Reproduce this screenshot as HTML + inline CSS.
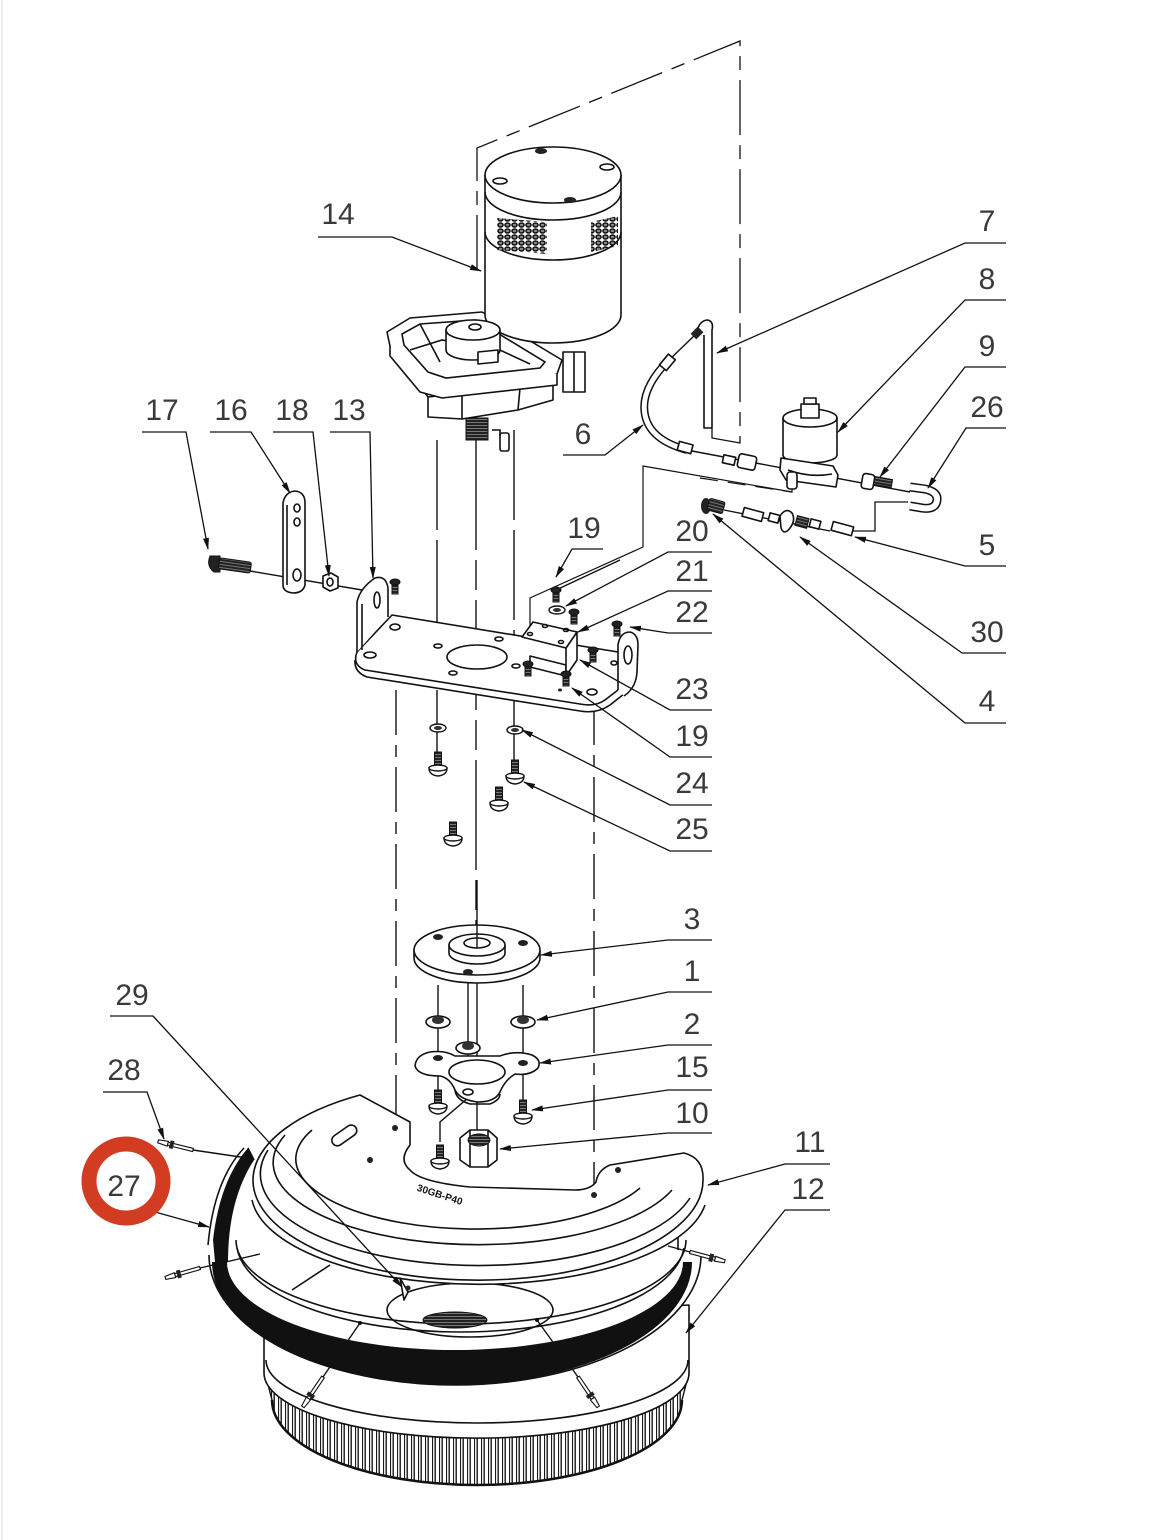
<!DOCTYPE html>
<html><head><meta charset="utf-8">
<style>
html,body{margin:0;padding:0;background:#fff;}
svg{display:block;}
.t{font-family:"Liberation Sans",sans-serif;font-size:30px;fill:#3a3a3a;text-anchor:middle;}
.l{fill:none;stroke:#111;stroke-width:1.4;}
.p{fill:#fff;stroke:#111;stroke-width:1.6;stroke-linejoin:round;}
.n{fill:none;stroke:#111;stroke-width:1.6;}
.d{fill:none;stroke:#111;stroke-width:1.5;}
</style></head><body>
<svg width="1168" height="1540" viewBox="0 0 1168 1540" xmlns="http://www.w3.org/2000/svg">
<defs>
<marker id="a" markerWidth="12" markerHeight="8" refX="11" refY="4" orient="auto" markerUnits="userSpaceOnUse"><path d="M0,1 L12,4 L0,7 Z" fill="#111"/></marker>
<pattern id="br" x="0" y="0" width="7" height="20" patternUnits="userSpaceOnUse"><rect width="7" height="20" fill="#fff"/><rect x="0.5" y="0" width="1.4" height="20" fill="#1a1a1a"/><rect x="5" y="0" width="1.1" height="20" fill="#1a1a1a"/></pattern>
<pattern id="vent" x="0" y="0" width="7" height="6" patternUnits="userSpaceOnUse"><ellipse cx="3.5" cy="3" rx="2.5" ry="2" fill="#888" stroke="#111" stroke-width="1.6"/></pattern>
<pattern id="hatch" width="3" height="3" patternUnits="userSpaceOnUse"><rect width="3" height="3" fill="#222"/><rect y="2" width="3" height="1" fill="#777"/></pattern>
<g id="sb"><rect x="-3.5" y="-18" width="7" height="16" fill="url(#hatch)" stroke="#111" stroke-width="1"/><path d="M-9,-2 Q-9,5 0,6 Q9,5 9,-2 Z" fill="#fff" stroke="#111" stroke-width="1.4"/><ellipse cx="0" cy="-2" rx="9" ry="3" fill="#fff" stroke="#111" stroke-width="1.4"/></g>
<g id="st"><rect x="-3" y="0" width="6" height="12" fill="url(#hatch)" stroke="#111" stroke-width="1"/><ellipse cx="0" cy="0" rx="5" ry="3" fill="#222" stroke="#111"/></g>
<g id="w"><ellipse cx="0" cy="0" rx="8" ry="4" fill="#fff" stroke="#111" stroke-width="1.4"/><ellipse cx="0" cy="0" rx="4" ry="2" fill="#333"/></g>
<g id="pin"><path d="M0,-1.6 L26,-1.6 L26,1.6 L0,1.6 Z" fill="#fff" stroke="#111" stroke-width="1.1"/><path d="M20,-4 L24,-4 L24,4 L20,4 Z" fill="#222"/><path d="M26,-2.5 L36,-1.5 L36,1.5 L26,2.5 Z" fill="#fff" stroke="#111" stroke-width="1.1"/></g>
</defs>
<rect width="1168" height="1540" fill="#fff"/>
<line x1="2" y1="0" x2="2" y2="1540" stroke="#eeeeee" stroke-width="2"/>

<!-- top dashed frame -->
<path d="M477,270 L477,148 L740,41 L740,443 L712,438 L712,428" fill="none" stroke="#111" stroke-width="1.3" stroke-dasharray="55,10,14,10"/>

<!-- ===== MOTOR / GEARBOX ===== -->
<g>
<rect x="563" y="352" width="22" height="40" class="p"/>
<line x1="574" y1="352" x2="574" y2="392" class="n"/>
<path d="M398,355 L428,397 L428,417 L462,419 L518,410 L553,400 L553,372 Z" class="p"/>
<path d="M428,397 L552,383" class="n"/>
<line x1="462" y1="392" x2="462" y2="419" class="n"/>
<line x1="520" y1="388" x2="518" y2="410" class="n"/>
<path d="M387,332 L410,318 L482,312 L562,360 L557,374 L442,388 L420,380 L390,346 Z" class="p"/>
<path d="M390,346 L390,356 L420,392 L442,398 L557,385 L557,374" class="p"/>
<path d="M402,334 L420,324 L476,320 L545,362 L540,368 L446,378 L428,372 L404,345 Z" class="n"/>
<path d="M410,350 L442,340 L500,350 L530,364" class="n"/>
<line x1="420" y1="324" x2="440" y2="362" class="n"/>
<rect x="466" y="418" width="22" height="22" fill="url(#hatch)" stroke="#111"/>
<rect x="500" y="433" width="9" height="18" rx="2" class="p"/>
<path d="M492,430 L500,430 L500,436" class="n"/>
<!-- motor body -->
<path d="M485,175 L485,315 A68,28 0 0 0 621,315 L621,175 Z" class="p"/>
<ellipse cx="553" cy="175" rx="68" ry="28" class="p"/>
<path d="M485,192 A68,28 0 0 0 621,192" class="n"/>
<path d="M485,232 A68,28 0 0 0 621,232" class="n"/>
<path d="M497,218 L547,222 L547,254 L497,250 Z" fill="url(#vent)"/>
<path d="M591,222 L618,216 L618,246 L591,252 Z" fill="url(#vent)"/>
<ellipse cx="541" cy="151" rx="6" ry="3" fill="#222"/>
<ellipse cx="570" cy="200" rx="6" ry="3" fill="#222"/>
<ellipse cx="500" cy="181" rx="7" ry="3" class="n"/>
<ellipse cx="607" cy="167" rx="7" ry="3" class="n"/>
<!-- hub on gearbox -->
<path d="M446,330 L446,350 A27,10 0 0 0 500,350 L500,330" class="p"/>
<ellipse cx="473" cy="330" rx="27" ry="10" class="p"/>
<ellipse cx="475" cy="327" rx="6" ry="3" class="n"/>
<path d="M478,352 L498,350 L498,362 L478,364 Z" class="p"/>
</g>

<!-- vertical assembly lines -->
<path d="M437,440 L437,650" class="l" stroke-dasharray="90,10"/>
<path d="M437,690 L437,755" class="l"/>
<path d="M476,440 L476,945" class="l" stroke-dasharray="110,10,30,10"/>
<path d="M514,430 L514,650" class="l" stroke-dasharray="90,10"/>
<path d="M514,690 L514,760" class="l"/>
<path d="M396,690 L396,1130" class="l" stroke-dasharray="45,10,12,10"/>
<path d="M594,700 L594,1195" class="l" stroke-dasharray="45,10,12,10"/>

<!-- ===== HOSES / VALVES ===== -->
<g>
<path d="M697,331 Q700,320 708,320 Q714,322 712,330 L712,428 L704,428 L704,335" class="p"/>
<path d="M667,362 Q640,390 645,415 Q650,440 687,450" fill="none" stroke="#111" stroke-width="8"/>
<path d="M667,362 Q640,390 645,415 Q650,440 687,450" fill="none" stroke="#fff" stroke-width="5"/>
<line x1="667" y1="362" x2="697" y2="333" class="l"/>
<rect x="693" y="328" width="8" height="10" transform="rotate(45 697 333)" fill="#222"/>
<rect x="663" y="355" width="9" height="14" transform="rotate(40 667 362)" class="p"/>
<rect x="678" y="443" width="14" height="9" transform="rotate(15 685 448)" class="p"/>
<line x1="692" y1="451" x2="910" y2="492" class="l"/>
<rect x="723" y="456" width="12" height="8" transform="rotate(12 729 460)" class="p"/>
<rect x="738" y="455" width="18" height="14" rx="3" transform="rotate(12 747 462)" class="p"/>
<!-- solenoid -->
<path d="M783,418 L783,455 A27,8 0 0 0 837,455 L837,418" class="p"/>
<ellipse cx="810" cy="418" rx="27" ry="9" class="p"/>
<path d="M801,404 L819,404 L819,418 L801,418 Z" class="p"/>
<path d="M804,398 L816,398 L816,404 L804,404 Z" class="p"/>
<path d="M781,458 L833,466 L838,475 L836,487 L786,480 L780,470 Z" class="p"/>
<path d="M788,470 Q810,478 832,474" class="n"/>
<rect x="787" y="472" width="10" height="17" rx="3" class="p"/>
<path d="M792,489 L792,492 L643,466 L643,547 L530,598 L530,640" fill="none" stroke="#111" stroke-width="1.2"/>
<path d="M700,478 L792,492" fill="none" stroke="#111" stroke-width="1.2" stroke-dasharray="18,10"/>
<line x1="620" y1="560" x2="556" y2="590" class="l"/>
<!-- fitting 9 -->
<rect x="862" y="474" width="12" height="15" rx="3" transform="rotate(10 868 481)" class="p"/>
<rect x="874" y="478" width="18" height="8" transform="rotate(10 883 482)" fill="url(#hatch)" stroke="#111"/>
<!-- U bend 26 -->
<path d="M910,487 L925,489 Q938,492 937,500 Q936,510 922,508 L910,506" fill="none" stroke="#111" stroke-width="9"/>
<path d="M910,487 L925,489 Q938,492 937,500 Q936,510 922,508 L910,506" fill="none" stroke="#fff" stroke-width="6"/>
<path d="M908,502 L875,502 L875,531 L853,531" fill="none" stroke="#111" stroke-width="1.3"/>
<!-- lower row -->
<ellipse cx="706" cy="506" rx="5" ry="8" fill="#222"/>
<rect x="708" y="500" width="16" height="12" rx="2" transform="rotate(15 716 506)" fill="url(#hatch)" stroke="#111"/>
<line x1="724" y1="510" x2="830" y2="531" class="l"/>
<rect x="743" y="510" width="20" height="9" transform="rotate(15 753 514)" class="p"/>
<rect x="769" y="514" width="10" height="8" transform="rotate(15 774 518)" class="p"/>
<path d="M780,516 Q786,507 792,513 Q796,520 790,528 Q784,536 781,528 Z" class="p"/>
<rect x="796" y="517" width="12" height="10" transform="rotate(15 802 522)" fill="url(#hatch)" stroke="#111"/>
<rect x="810" y="520" width="10" height="8" transform="rotate(15 815 524)" class="p"/>
<rect x="832" y="524" width="21" height="9" transform="rotate(15 842 528)" class="p"/>
</g>

<!-- ===== PLATE 13 & bolts ===== -->
<g>
<line x1="250" y1="571" x2="362" y2="590" class="l"/>
<path d="M210,556 Q206,566 214,572 L220,572 L220,556 Z" fill="#222" stroke="#111"/>
<rect x="219" y="560" width="32" height="11" rx="2" transform="rotate(8 235 565)" fill="url(#hatch)" stroke="#111"/>
<path d="M283,503 Q285,492 295,491 Q305,492 305,503 L305,585 Q303,593 293,593 Q283,592 283,585 Z" class="p"/>
<path d="M287,505 L287,585" class="n"/>
<ellipse cx="297" cy="508" rx="3" ry="4" class="n"/>
<ellipse cx="297" cy="522" rx="3" ry="4" class="n"/>
<ellipse cx="297" cy="575" rx="4" ry="6" class="n"/>
<path d="M323,576 L331,573 L338,577 L338,588 L330,591 L323,587 Z" class="p"/>
<ellipse cx="330" cy="582" rx="3" ry="4" class="n"/>
<!-- plate -->
<path d="M355,660 Q354,672 367,677 L580,711 Q597,714 610,705 L624,694" class="p"/>
<path d="M357,652 L392,615 L618,652 L628,665 Q630,680 618,690 L605,700 Q595,707 580,704 L365,670 Q352,665 357,652 Z" class="p"/>
<path d="M357,652 L357,602 Q360,588 375,578 Q386,575 388,588 L388,617" class="p"/>
<path d="M362,650 L362,604" class="n"/>
<ellipse cx="377" cy="600" rx="3" ry="8" class="n"/>
<path d="M618,690 L618,645 Q620,632 630,632 Q638,634 638,645 L637,672 Q636,688 624,696" class="p"/>
<ellipse cx="628" cy="655" rx="4" ry="9" class="n"/>
<ellipse cx="477" cy="657" rx="30" ry="12" class="p"/>
<ellipse cx="395" cy="627" rx="5" ry="3" class="n"/>
<ellipse cx="370" cy="655" rx="6" ry="3" class="n"/>
<ellipse cx="438" cy="646" rx="4" ry="2" class="n"/>
<ellipse cx="499" cy="639" rx="4" ry="2" class="n"/>
<ellipse cx="453" cy="673" rx="4" ry="2" class="n"/>
<ellipse cx="516" cy="666" rx="4" ry="2" class="n"/>
<ellipse cx="592" cy="692" rx="5" ry="3" class="n"/>
<ellipse cx="614" cy="663" rx="3" ry="2" class="n"/>
<ellipse cx="560" cy="690" rx="2" ry="1.5" fill="#222"/>
<!-- small bracket -->
<path d="M530,656 L566,665 L566,676 L530,667 Z" class="p"/>
<path d="M566,648 L577,632 L577,660 L566,676 Z" class="p"/>
<path d="M522,637 L533,622 L577,632 L566,648 Z" class="p"/>
<ellipse cx="530" cy="634" rx="2.5" ry="1.5" class="n"/>
<ellipse cx="545" cy="626" rx="2.5" ry="1.5" class="n"/>
<ellipse cx="561" cy="642" rx="2.5" ry="1.5" class="n"/>
<ellipse cx="566" cy="630" rx="2.5" ry="1.5" class="n"/>
<use href="#st" x="556" y="590"/>
<use href="#w" x="557" y="610"/>
<use href="#st" x="574" y="612"/>
<use href="#st" x="617" y="624"/>
<use href="#st" x="593" y="650"/>
<use href="#st" x="528" y="664"/>
<use href="#st" x="566" y="674"/>
<use href="#st" x="395" y="582"/>
</g>

<!-- screws under plate -->
<use href="#w" x="438" y="728"/>
<use href="#w" x="515" y="730"/>
<use href="#sb" x="438" y="770"/>
<use href="#sb" x="515" y="778"/>
<use href="#sb" x="499" y="805"/>
<use href="#sb" x="453" y="840"/>

<!-- ===== BRUSH 12 ===== -->
<g>
<path d="M265,1373 A212,65 0 0 0 689,1373 L682,1400 A205,85 0 0 1 272,1400 Z" fill="url(#br)" stroke="#111" stroke-width="1.4"/>
<path d="M272,1400 A205,85 0 0 0 682,1400" fill="none" stroke="#111" stroke-width="2.5"/>
<path d="M264,1330 L264,1373 A212,65 0 0 0 689,1373 L689,1305 Z" class="p"/>
<path d="M266,1360 A211,63 0 0 0 688,1360" class="n"/>
<!-- ring -->
<path d="M209,1255 A246,130 0 0 0 701,1255 L701,1230 L209,1230 Z" fill="#fff"/>
<path d="M212,1262 A240,123 0 0 0 692,1262 L683,1262 A228,88 0 0 1 227,1262 Z" fill="#111"/>
<path d="M209,1255 A246,130 0 0 0 701,1255" class="n"/>
<path d="M236,1240 A225,84 0 0 0 686,1240" class="n"/>
<path d="M237,1248 A224,90 0 0 0 684,1248" class="n"/>
<!-- skirt 27 -->
<path d="M248,1148 Q220,1180 213,1240 L215,1262 L228,1262 Q228,1200 254,1160 Z" fill="#111"/>
<path d="M244,1148 Q214,1180 208,1245" class="n"/>
<path d="M248,1148 L254,1160" class="n"/>
<!-- right tab -->
<path d="M668,1240 L672,1225 L678,1228 L678,1250" class="p"/>
<!-- hub -->
<ellipse cx="470" cy="1310" rx="83" ry="27" class="n"/>
<ellipse cx="455" cy="1320" rx="32" ry="8" fill="url(#hatch)" stroke="#111"/>
</g>

<!-- ===== COVER 11 ===== -->
<g>
<path d="M360,1095 A225,100 0 1 0 703,1180 L705,1205 A228,92 0 0 1 252,1200 Z" fill="#fff" stroke="none"/>
<path d="M252,1200 A228,92 0 0 0 705,1205" class="n"/>
<path d="M360,1095 A225,100 0 1 0 703,1180 Q704,1158 684,1153 L610,1165 Q598,1170 596,1182 Q590,1190 575,1190 L470,1187 Q420,1182 410,1170 Q398,1160 410,1145 L410,1122 Z" class="p"/>
<path d="M312,1130 A175,68 0 0 0 640,1188" class="n"/>
<path d="M285,1135 A200,80 0 0 0 672,1190" class="n"/>
<path d="M268,1150 A215,90 0 0 0 690,1198" class="n"/>
<path d="M292,1290 L330,1265" class="n"/>
<rect x="330" y="1130" width="28" height="11" rx="5.5" transform="rotate(-35 344 1135)" class="p"/>
<circle cx="395" cy="1128" r="3" fill="#222"/>
<circle cx="370" cy="1160" r="3" fill="#222"/>
<circle cx="594" cy="1195" r="3" fill="#222"/>
<circle cx="618" cy="1170" r="3" fill="#222"/>
<text x="440" y="1198" transform="rotate(18 440 1194)" style="font-family:'Liberation Sans',sans-serif;font-size:10px;font-weight:bold;fill:#111;text-anchor:middle">30GB-P40</text>
<path d="M400,1278 L408,1292 L404,1300 Z" class="p"/>
<circle cx="408" cy="1288" r="2.5" fill="#222"/>
</g>

<!-- pins -->
<g>
<use href="#pin" transform="translate(193,1150) rotate(194)"/>
<line x1="193" y1="1150" x2="247" y2="1158" class="l"/>
<use href="#pin" transform="translate(200,1268) rotate(164)"/>
<line x1="200" y1="1268" x2="260" y2="1254" class="l"/>
<use href="#pin" transform="translate(690,1252) rotate(15)"/>
<line x1="668" y1="1246" x2="690" y2="1252" class="l"/>
<use href="#pin" transform="translate(323,1377) rotate(124)"/>
<line x1="323" y1="1377" x2="360" y2="1323" class="l"/>
<circle cx="360" cy="1323" r="2" fill="#111"/>
<use href="#pin" transform="translate(578,1377) rotate(56)"/>
<line x1="578" y1="1377" x2="537" y2="1320" class="l"/>
<circle cx="537" cy="1320" r="2" fill="#111"/>
</g>

<!-- ===== DRIVE PARTS ===== -->
<g>
<line x1="438" y1="985" x2="438" y2="1095" class="l"/>
<line x1="523" y1="985" x2="523" y2="1100" class="l"/>
<line x1="477" y1="955" x2="477" y2="1135" class="l"/>
<path d="M468,975 L468,1098 L440,1122 L440,1142" class="l"/>
<!-- plate 3 -->
<path d="M414,950 L414,958 A63,25 0 0 0 540,958 L540,950" class="p"/>
<ellipse cx="477" cy="950" rx="63" ry="25" class="p"/>
<path d="M449,945 L449,953 A28,11 0 0 0 505,953 L505,945" class="p"/>
<ellipse cx="477" cy="945" rx="28" ry="11" class="p"/>
<ellipse cx="477" cy="943" rx="13" ry="5" class="p"/>
<line x1="477" y1="880" x2="477" y2="948" class="l"/>
<ellipse cx="438" cy="937" rx="5" ry="3" fill="#222"/>
<ellipse cx="523" cy="943" rx="5" ry="3" fill="#222"/>
<ellipse cx="468" cy="972" rx="5" ry="3" fill="#222"/>
<!-- nuts 1 -->
<g transform="translate(438,1022)"><ellipse rx="12" ry="6" class="p"/><ellipse cy="-2" rx="6" ry="4" fill="#333"/></g>
<g transform="translate(523,1022)"><ellipse rx="12" ry="6" class="p"/><ellipse cy="-2" rx="6" ry="4" fill="#333"/></g>
<!-- plate 2 -->
<path d="M430,1052 Q445,1050 455,1056 L500,1056 Q515,1050 532,1055 Q542,1060 538,1068 Q530,1076 515,1074 Q505,1080 500,1092 Q495,1102 478,1102 Q460,1100 455,1090 Q450,1078 440,1076 Q418,1076 415,1066 Q416,1055 430,1052 Z" class="p"/>
<path d="M455,1090 Q456,1100 470,1104 L490,1104 Q500,1100 500,1094" class="n"/>
<ellipse cx="477" cy="1072" rx="28" ry="12" class="p"/>
<ellipse cx="438" cy="1058" rx="5" ry="3" fill="#222"/>
<ellipse cx="523" cy="1063" rx="5" ry="3" fill="#222"/>
<ellipse cx="468" cy="1092" rx="5" ry="3" class="n"/>
<g transform="translate(468,1048)"><ellipse rx="12" ry="6" class="p"/><ellipse cy="-2" rx="6" ry="4" fill="#333"/></g>
<use href="#sb" x="438" y="1108"/>
<use href="#sb" x="523" y="1118"/>
<use href="#sb" x="440" y="1163"/>
<!-- nut 10 -->
<path d="M460,1138 L470,1130 L488,1130 L497,1138 L497,1160 L488,1167 L470,1167 L460,1160 Z" class="p"/>
<path d="M470,1130 L470,1167 M488,1130 L488,1167" class="n"/>
<ellipse cx="479" cy="1140" rx="11" ry="6" fill="url(#hatch)" stroke="#111"/>
</g>

<!-- ===== LEADERS ===== -->
<g fill="none" stroke="#111" stroke-width="1.3">
<path d="M318,237 L392,237 L481,271" marker-end="url(#a)"/>
<path d="M1006,243 L965,243 L717,353" marker-end="url(#a)"/>
<path d="M1006,300 L965,300 L838,432" marker-end="url(#a)"/>
<path d="M1006,367 L965,367 L880,477" marker-end="url(#a)"/>
<path d="M1006,428 L966,428 L928,488" marker-end="url(#a)"/>
<path d="M563,455 L605,455 L643,425" marker-end="url(#a)"/>
<path d="M1006,566 L965,566 L855,537" marker-end="url(#a)"/>
<path d="M1006,653 L962,653 L800,537" marker-end="url(#a)"/>
<path d="M1006,723 L965,723 L713,514" marker-end="url(#a)"/>
<path d="M142,432 L186,432 L208,549" marker-end="url(#a)"/>
<path d="M210,432 L251,432 L290,493" marker-end="url(#a)"/>
<path d="M273,432 L313,432 L329,576" marker-end="url(#a)"/>
<path d="M330,432 L370,432 L373,578" marker-end="url(#a)"/>
<path d="M603,549 L572,549 L556,577" marker-end="url(#a)"/>
<path d="M712,552 L668,552 L566,606" marker-end="url(#a)"/>
<path d="M712,591 L668,591 L578,632" marker-end="url(#a)"/>
<path d="M712,633 L668,633 L630,627" marker-end="url(#a)"/>
<path d="M712,710 L670,710 L580,660" marker-end="url(#a)"/>
<path d="M712,757 L670,757 L572,688" marker-end="url(#a)"/>
<path d="M712,805 L670,805 L522,730" marker-end="url(#a)"/>
<path d="M712,851 L670,851 L524,782" marker-end="url(#a)"/>
<path d="M712,940 L668,940 L541,955" marker-end="url(#a)"/>
<path d="M712,992 L668,992 L537,1020" marker-end="url(#a)"/>
<path d="M712,1045 L668,1045 L540,1063" marker-end="url(#a)"/>
<path d="M712,1090 L668,1090 L532,1110" marker-end="url(#a)"/>
<path d="M712,1133 L668,1133 L500,1149" marker-end="url(#a)"/>
<path d="M830,1164 L785,1164 L708,1185" marker-end="url(#a)"/>
<path d="M830,1210 L785,1210 L686,1333" marker-end="url(#a)"/>
<path d="M110,1016 L153,1016 L402,1287" marker-end="url(#a)"/>
<path d="M103,1092 L147,1092 L164,1139" marker-end="url(#a)"/>
<path d="M155,1212 L209,1227" marker-end="url(#a)"/>
</g>

<!-- red circle -->
<circle cx="126" cy="1181" r="37" fill="none" stroke="#d23c22" stroke-width="15"/>

<!-- labels -->
<g class="t">
<text x="338" y="224" class="t">14</text>
<text x="987" y="231" class="t">7</text>
<text x="987" y="289" class="t">8</text>
<text x="987" y="356" class="t">9</text>
<text x="987" y="417" class="t">26</text>
<text x="583" y="444" class="t">6</text>
<text x="987" y="555" class="t">5</text>
<text x="987" y="642" class="t">30</text>
<text x="987" y="711" class="t">4</text>
<text x="162" y="420" class="t">17</text>
<text x="231" y="420" class="t">16</text>
<text x="292" y="420" class="t">18</text>
<text x="349" y="420" class="t">13</text>
<text x="584" y="538" class="t">19</text>
<text x="692" y="541" class="t">20</text>
<text x="692" y="581" class="t">21</text>
<text x="692" y="622" class="t">22</text>
<text x="692" y="699" class="t">23</text>
<text x="692" y="746" class="t">19</text>
<text x="692" y="793" class="t">24</text>
<text x="692" y="839" class="t">25</text>
<text x="692" y="929" class="t">3</text>
<text x="692" y="981" class="t">1</text>
<text x="692" y="1034" class="t">2</text>
<text x="692" y="1077" class="t">15</text>
<text x="692" y="1123" class="t">10</text>
<text x="810" y="1152" class="t">11</text>
<text x="808" y="1199" class="t">12</text>
<text x="132" y="1005" class="t">29</text>
<text x="124" y="1080" class="t">28</text>
<text x="124" y="1196" class="t">27</text>
</g>
</svg>
</body></html>
